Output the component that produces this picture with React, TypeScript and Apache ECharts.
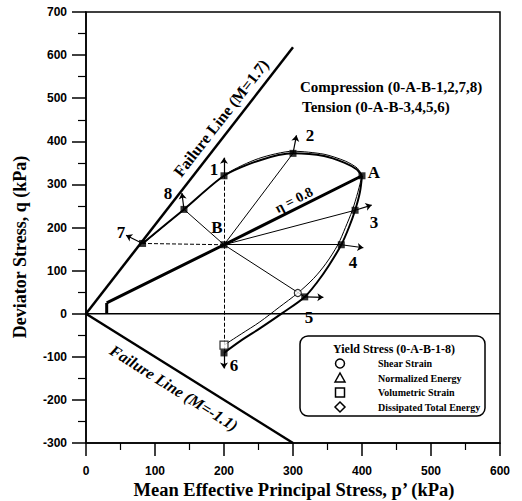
import React, { useEffect, useRef } from "react";
import * as echarts from "echarts";

// ---- data (p', q in kPa) ----
const failureCompression = [[0, 0], [300, 618]];
const failureTension = [[0, 0], [300, -300]];
const zeroLine = [[0, 0], [600, 0]];
const isoPath = [[30, 0], [30, 25]];
const etaPath = [[30, 25], [200, 160], [400, 320]];
const compressionOuter = [[82, 163], [142, 242], [200, 320], [250, 355], [300, 372], [345, 366], [375, 350], [392, 335], [400, 320]];
const compressionInner = [[86, 167], [145, 246], [203, 324], [250, 360], [300, 377], [345, 370], [376, 354], [393, 338], [400, 322]];
const tensionOuter = [[400, 320], [397, 282], [390, 240], [381, 200], [370, 160], [352, 112], [335, 73], [317, 39], [285, 2], [252, -34], [225, -62], [200, -91]];
const tensionInner = [[400, 320], [394, 282], [386, 240], [376, 200], [365, 160], [348, 117], [330, 82], [307, 48], [280, 15], [252, -19], [225, -47], [200, -73]];
const pointA = [400, 320];
const pointB = [200, 160];
const yieldNames = ["1", "2", "3", "4", "5", "6", "7", "8"];
const yieldPoints = [[200, 320], [300, 372], [390, 240], [370, 160], [317, 39], [200, -91], [82, 163], [142, 242]];
const arrowTips = [[200, 362], [305, 414], [414, 252], [402, 153], [344, 38], [200, -127], [58, 182], [139, 280]];
const radialTypes = ["dashed", "solid", "solid", "solid", "solid", "dashed", "dashed", "solid"];
const openCircles = [[307, 48]];
const openSquares = [[200, -73]];
const xTickLabels = ["0", "100", "200", "300", "400", "500", "600"];
const yTickLabels = ["-300", "-200", "-100", "0", "100", "200", "300", "400", "500", "600", "700"];

const SERIF = "'Liberation Serif', 'Times New Roman', serif";
const SANS = "'Liberation Sans', Arial, sans-serif";

export default function App() {
  const ref = useRef<HTMLDivElement>(null);
  useEffect(() => {
    if (!ref.current) return;
    const chart = echarts.init(ref.current, undefined, { renderer: "svg" });
    const line = (data: number[][], width: number, extra: any = {}) => ({
      type: "line",
      data,
      symbol: "none",
      lineStyle: { color: "#000", width, ...(extra.lineStyle || {}) },
      smooth: extra.smooth || false,
      z: extra.z || 2,
      silent: true,
    });
    const txt = (text: string, x: number, y: number, size: number, extra: any = {}) => ({
      type: "text",
      x,
      y,
      rotation: extra.rotation || 0,
      z: 100,
      style: {
        text,
        fill: "#000",
        font: `${extra.italic ? "italic " : ""}bold ${size}px ${SERIF}`,
        textAlign: extra.align || "center",
        textVerticalAlign: "middle",
      },
    });
    const numLabelPos: number[][] = [[214, 169], [310, 135], [374, 222], [353, 262], [309, 317], [234, 365], [121, 232], [168, 193]];
    chart.setOption({
      animation: false,
      grid: { left: 86, right: 22, top: 12, bottom: 58, show: true, borderColor: "#000", borderWidth: 1.5, backgroundColor: "transparent" },
      xAxis: {
        type: "value",
        min: 0,
        max: 600,
        interval: 100,
        axisLine: { show: true, onZero: false, lineStyle: { color: "#000", width: 1.5 } },
        axisTick: { show: true, inside: false, length: 13, lineStyle: { color: "#000", width: 1.5 } },
        minorTick: { show: true, splitNumber: 2, length: 7, lineStyle: { color: "#000", width: 1.2 } },
        splitLine: { show: false },
        axisLabel: {
          margin: 22,
          fontFamily: SANS,
          fontWeight: "bold",
          fontSize: 12,
          color: "#000",
          formatter: (v: number) => xTickLabels[Math.round(v / 100)] ?? String(v),
        },
      },
      yAxis: {
        type: "value",
        min: -300,
        max: 700,
        interval: 100,
        axisLine: { show: true, onZero: false, lineStyle: { color: "#000", width: 1.5 } },
        axisTick: { show: true, inside: false, length: 14, lineStyle: { color: "#000", width: 1.5 } },
        minorTick: { show: true, splitNumber: 2, length: 8, lineStyle: { color: "#000", width: 1.2 } },
        splitLine: { show: false },
        axisLabel: {
          margin: 19,
          fontFamily: SANS,
          fontWeight: "bold",
          fontSize: 12,
          color: "#000",
          formatter: (v: number) => yTickLabels[Math.round((v + 300) / 100)] ?? String(v),
        },
      },
      series: [
        line(zeroLine, 1.5),
        line(failureCompression, 2.5),
        line(failureTension, 2.5),
        line(isoPath, 3),
        line(etaPath, 3),
        line(compressionOuter, 2, { smooth: 0.25 }),
        line(compressionInner, 1, { smooth: 0.25 }),
        line(tensionOuter, 2, { smooth: 0.3 }),
        line(tensionInner, 1, { smooth: 0.3 }),
        {
          type: "lines",
          coordinateSystem: "cartesian2d",
          silent: true,
          z: 1,
          data: yieldPoints.map((p, i) => ({
            coords: [pointB, p],
            lineStyle: { color: "#000", width: 1, opacity: 1, type: radialTypes[i] },
          })),
        },
        {
          type: "lines",
          coordinateSystem: "cartesian2d",
          silent: true,
          symbol: ["none", "arrow"],
          symbolSize: 6,
          z: 3,
          data: yieldPoints.map((p, i) => ({
            coords: [p, arrowTips[i]],
            lineStyle: { color: "#000", width: 1.2, opacity: 1 },
          })),
        },
        {
          type: "scatter",
          data: [...yieldPoints, pointA, pointB],
          symbol: "rect",
          symbolSize: 7,
          itemStyle: { color: "#000" },
          silent: true,
          z: 5,
        },
        {
          type: "scatter",
          data: openCircles,
          symbol: "circle",
          symbolSize: 7,
          itemStyle: { color: "#fff", borderColor: "#000", borderWidth: 1.2 },
          silent: true,
          z: 6,
        },
        {
          type: "scatter",
          data: openSquares,
          symbol: "rect",
          symbolSize: 8,
          itemStyle: { color: "#fff", borderColor: "#000", borderWidth: 1.2 },
          silent: true,
          z: 6,
        },
      ],
      graphic: [
        txt("Deviator Stress, q (kPa)", 20, 247, 18, { rotation: Math.PI / 2 }),
        txt("Mean Effective Principal Stress, p\u2019 (kPa)", 294, 490, 18.5),
        txt("Compression (0-A-B-1,2,7,8)", 300, 87, 15, { align: "left" }),
        txt("Tension (0-A-B-3,4,5,6)", 302, 107, 15, { align: "left" }),
        txt("Failure Line (M=1.7)", 221, 118, 16, { rotation: (52 * Math.PI) / 180 }),
        txt("Failure Line (M=-1.1)", 174, 388, 16, { rotation: (-32 * Math.PI) / 180, italic: true }),
        txt("\u03B7 = 0.8", 294, 200, 14, { rotation: (27 * Math.PI) / 180 }),
        ...yieldNames.map((n, i) => txt(n, numLabelPos[i][0], numLabelPos[i][1], 17)),
        txt("A", 374, 172, 17),
        txt("B", 217, 227, 17),
        {
          type: "rect",
          z: 90,
          shape: { x: 300, y: 336, width: 185, height: 80, r: 8 },
          style: { fill: "#fff", stroke: "#000", lineWidth: 1.5 },
        },
        txt("Yield Stress (0-A-B-1-8)", 333, 349, 12, { align: "left" }),
        { type: "circle", z: 100, shape: { cx: 340, cy: 363.5, r: 4.5 }, style: { fill: "#fff", stroke: "#000", lineWidth: 1.5 } },
        { type: "polygon", z: 100, shape: { points: [[335, 382], [340, 373], [345, 382]] }, style: { fill: "#fff", stroke: "#000", lineWidth: 1.5 } },
        { type: "rect", z: 100, shape: { x: 335.5, y: 388, width: 9, height: 9 }, style: { fill: "#fff", stroke: "#000", lineWidth: 1.5 } },
        { type: "polygon", z: 100, shape: { points: [[340, 402], [345, 407], [340, 412], [335, 407]] }, style: { fill: "#fff", stroke: "#000", lineWidth: 1.5 } },
        txt("Shear Strain", 378, 363.5, 10, { align: "left" }),
        txt("Normalized Energy", 378, 378, 10, { align: "left" }),
        txt("Volumetric Strain", 378, 392.5, 10, { align: "left" }),
        txt("Dissipated Total Energy", 378, 407, 10, { align: "left" }),
      ],
    });
    return () => chart.dispose();
  }, []);
  return <div ref={ref} style={{ position: "fixed", left: 0, top: 0, width: 522, height: 501, background: "#fff" }} />;
}
